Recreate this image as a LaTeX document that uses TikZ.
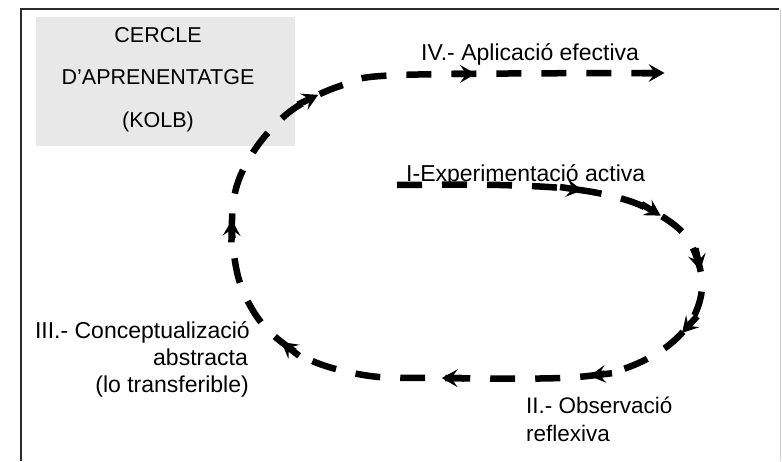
\documentclass[tikz,border=0pt]{standalone}
\usepackage{fontspec}
\setmainfont{Liberation Sans}
\usetikzlibrary{arrows.meta,decorations.markings}

\definecolor{framedark}{HTML}{2B2B2B}
\definecolor{framelight}{HTML}{CFCFCF}
\definecolor{boxgray}{HTML}{E8E8E8}

% solid arrow head sitting on a short solid piece of the dashed loop
\newcommand\looptip{%
  \draw[solid, line width=6.5pt,
        -{Stealth[length=16pt,width=18pt,inset=6.5pt,line width=0pt]}]
        (-22pt,0) -- (0.5pt,0);}

\tikzset{
  boxtext/.style={font=\fontsize{21.5}{26}\selectfont, inner sep=0pt, anchor=base},
  labtext/.style={font=\fontsize{23}{28}\selectfont, inner sep=0pt},
  loopline/.style={line width=6.5pt, dash pattern=on 25pt off 20pt, line cap=butt}
}

\begin{document}
\begin{tikzpicture}[x=1pt,y=-1pt]
\useasboundingbox (0,0) rectangle (782,461);
\fill[white] (0,0) rectangle (782,461);

% outer frame
\draw[framedark, line width=2.5pt] (21,461) -- (21,9) -- (779,9);
\draw[framelight, line width=1.5pt] (780.5,9) -- (780.5,461);

% title box
\fill[boxgray] (36,17) rectangle (295,146);
\node[boxtext] (t1) at (158,42) {CERCLE};
\node[boxtext] (t2) at (158,84) {D’APRENENTATGE};
\node[boxtext] (t3) at (158,127) {(KOLB)};

% stage labels
\node[labtext, anchor=base west] (s4) at (421,60) {IV.- Aplicació efectiva};
\node[labtext, anchor=base west] (s1) at (406,181) {I-Experimentació activa};
\node[labtext, anchor=base east] (s3a) at (250,338) {III.- Conceptualizació};
\node[labtext, anchor=base east] (s3b) at (248,365) {abstracta};
\node[labtext, anchor=base east] (s3c) at (249,392) {(lo transferible)};
\node[labtext, font=\fontsize{22.5}{27}\selectfont, anchor=base west] (s2a) at (526,413) {II.- Observació};
\node[labtext, font=\fontsize{22.5}{27}\selectfont, anchor=base west] (s2b) at (526,441) {reflexiva};

% the learning loop
\coordinate (loopstart) at (397,185);
\coordinate (loopend) at (672,73);
\draw[loopline, postaction={decorate}, decoration={markings,
    mark=at position 185pt with {\looptip},
    mark=at position 268pt with {\looptip},
    mark=at position 338pt with {\looptip},
    mark=at position 406pt with {\looptip},
    mark=at position 510pt with {\looptip},
    mark=at position 658pt with {\looptip},
    mark=at position 826pt with {\looptip},
    mark=at position 963pt with {\looptip},
    mark=at position 1123pt with {\looptip},
    mark=at position 1284pt with {\looptip},
    mark=at position -8pt with {\looptip}}]
  plot[smooth, tension=0.55] coordinates {
    (loopstart) (500,185) (580,190) (640,205) (685,235) (702,280)
    (693,318) (665,348) (620,370) (560,378) (440,378) (370,376)
    (310,360) (265,327) (240,283) (232,230) (237,185) (258,145)
    (292,110) (340,86) (400,75) (loopend)};
\end{tikzpicture}
\end{document}
